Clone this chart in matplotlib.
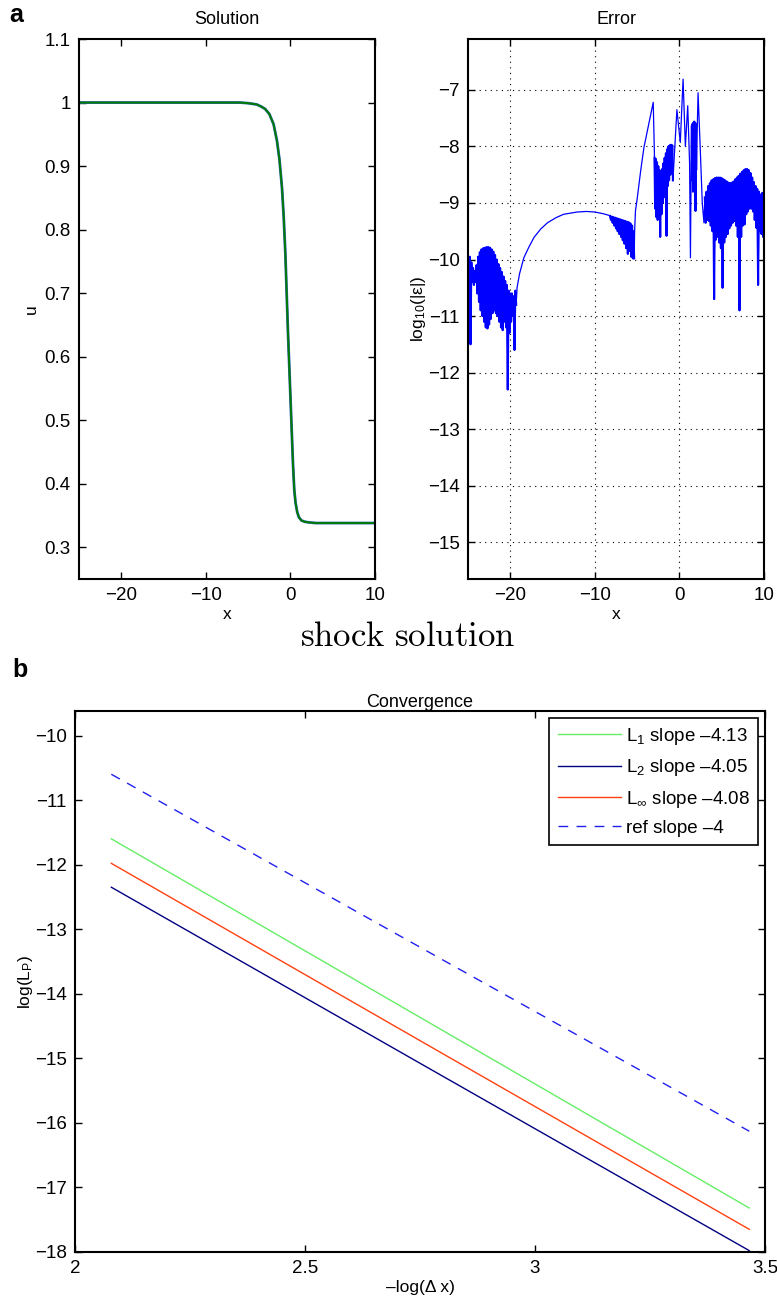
import numpy as np
import matplotlib
matplotlib.use("Agg")
import matplotlib.pyplot as plt
from matplotlib.ticker import FormatStrFormatter

plt.rcParams['font.family'] = ['Liberation Sans', 'DejaVu Sans']
plt.rcParams['font.size'] = 12.5
plt.rcParams['mathtext.fontset'] = 'custom'
plt.rcParams['mathtext.rm'] = 'Liberation Sans'
plt.rcParams['mathtext.it'] = 'Liberation Sans'

# ---- panel a, left: shock profile (exact and numerical overlap)
sol_x = [-25, -6, -5, -4, -3.5, -3, -2.5, -2, -1.6, -1.3, -1.0, -0.8, -0.6, -0.45,
         -0.3, -0.1, 0.1, 0.3, 0.45, 0.6, 0.8, 1.0, 1.3, 1.7, 2.2, 3, 10]
sol_u = [1.0, 1.0, 0.999, 0.997, 0.994, 0.99, 0.982, 0.966, 0.94, 0.91, 0.865,
         0.82, 0.76, 0.70, 0.64, 0.57, 0.50, 0.43, 0.39, 0.37, 0.355, 0.347,
         0.342, 0.340, 0.339, 0.338, 0.338]

# ---- panel a, right: log10 error, smooth pieces and oscillating bursts
# burst A
xa = [-25.0, -24.8, -24.6, -24.4, -24.2, -24.0, -23.8, -23.6, -23.4, -23.2, -23.0,
      -22.8, -22.6, -22.4, -22.2, -22.0, -21.8, -21.6, -21.4, -21.2, -21.0, -20.8,
      -20.6, -20.4, -20.2, -20.0, -19.8, -19.6, -19.4]
ya_top = [-10.10, -9.95, -10.05, -10.15, -10.2, -10.1, -9.95, -9.87, -9.82, -9.80,
          -9.79, -9.78, -9.78, -9.79, -9.82, -9.86, -9.92, -10.0, -10.08, -10.15,
          -10.22, -10.3, -10.38, -10.45, -10.55, -10.6, -10.6, -10.65, -10.55]
ya_bot = [-10.3, -11.5, -10.4, -10.45, -10.4, -10.6, -10.75, -10.9, -11.0, -11.1,
          -11.2, -11.22, -11.15, -11.05, -10.95, -10.9, -10.95, -11.0, -11.1, -11.2,
          -11.25, -11.1, -11.2, -12.3, -11.3, -11.1, -11.0, -11.6, -10.8]
# smooth arch
x_arch = [-19.2, -18.9, -18.4, -17.8, -17.2, -16.4, -15.6, -14.6, -13.7, -12.1,
          -11.0, -10.0, -9.0, -8.3]
y_arch = [-10.5, -10.25, -9.97, -9.78, -9.61, -9.46, -9.35, -9.26, -9.2, -9.16,
          -9.15, -9.16, -9.19, -9.22]
# burst B
xb = [-8.2, -8.0, -7.8, -7.6, -7.4, -7.2, -7.0, -6.8, -6.6, -6.4, -6.2, -6.0,
      -5.8, -5.6, -5.45]
yb_top = [-9.23, -9.24, -9.25, -9.26, -9.27, -9.28, -9.29, -9.30, -9.31, -9.32,
          -9.33, -9.34, -9.36, -9.40, -9.5]
yb_bot = [-9.3, -9.35, -9.4, -9.45, -9.5, -9.55, -9.6, -9.66, -9.72, -9.8, -9.9,
          -9.85, -9.95, -9.98, -9.98]
# rise to first peak
x_rise = [-5.3, -5.2, -5.0, -4.6, -4.2, -3.6, -3.1]
y_rise = [-9.5, -9.14, -8.93, -8.45, -8.02, -7.58, -7.22]
# burst C
xc = [-2.95, -2.8, -2.65, -2.5, -2.35, -2.2, -2.05, -1.9, -1.75, -1.6, -1.45,
      -1.3, -1.15, -1.0, -0.85]
yc_top = [-8.2, -8.22, -8.28, -8.35, -8.42, -8.45, -8.4, -8.3, -8.2, -8.12, -8.05,
          -8.0, -7.98, -7.97, -7.98]
yc_bot = [-9.1, -9.25, -9.3, -9.28, -9.6, -9.2, -9.0, -8.9, -8.8, -9.58, -8.7,
          -8.6, -8.5, -8.45, -8.6]
# spikes around the shock
x_mid = [-0.75, -0.3, 0.1, 0.43, 0.7, 0.98, 1.2, 1.3, 1.4]
y_mid = [-8.55, -7.35, -7.93, -6.81, -8.0, -7.28, -8.3, -9.97, -8.0]
# burst D
xd = [1.45, 1.55, 1.65, 1.75, 1.85, 1.95]
yd_top = [-7.65, -7.6, -7.58, -7.56, -7.58, -7.6]
yd_bot = [-8.6, -8.8, -8.5, -8.7, -9.14, -8.4]
x_peak = [2.2, 2.45, 2.7, 2.9]
y_peak = [-7.05, -8.0, -9.0, -9.35]
# burst E
xe = [3.0, 3.2, 3.4, 3.6, 3.8, 4.0, 4.2, 4.4, 4.6, 4.8, 5.0, 5.2, 5.4, 5.6, 5.8,
      6.0, 6.2, 6.4, 6.6, 6.8, 7.0, 7.2, 7.4, 7.6, 7.8, 8.0, 8.2, 8.4, 8.6, 8.8,
      9.0, 9.2, 9.4, 9.6, 9.8, 10.0]
ye_top = [-8.9, -8.8, -8.7, -8.65, -8.6, -8.58, -8.56, -8.55, -8.55, -8.55, -8.56,
          -8.58, -8.6, -8.62, -8.64, -8.65, -8.64, -8.62, -8.58, -8.55, -8.52, -8.48,
          -8.45, -8.42, -8.4, -8.4, -8.42, -8.47, -8.55, -8.63, -8.7, -8.75, -8.8,
          -8.85, -8.82, -8.8]
ye_bot = [-9.35, -9.3, -9.32, -9.4, -9.5, -10.7, -9.65, -9.6, -9.7, -9.8, -10.5,
          -9.7, -9.6, -9.55, -9.45, -9.4, -9.35, -9.32, -9.4, -9.6, -10.9, -9.6,
          -9.4, -9.38, -9.2, -9.15, -9.1, -9.1, -9.15, -9.3, -9.44, -10.45, -9.5,
          -9.55, -9.6, -9.3]

# ---- panel b: convergence
conv_x = [2.079, 2.773, 3.466]
conv_L1 = [-11.60, -14.46, -17.32]
conv_L2 = [-12.35, -15.17, -17.98]
conv_Linf = [-11.98, -14.82, -17.65]
conv_ref = [-10.60, -13.37, -16.13]


def burst(x, top, bot):
    # alternate between the read upper and lower envelope at each wiggle
    xs, ys = [], []
    dx = np.diff(x).mean() / 2
    for xi, t, b in zip(x, top, bot):
        xs += [xi, xi + dx]
        ys += [t, b]
    return xs, ys


bursts = [burst(xa, ya_top, ya_bot), burst(xb, yb_top, yb_bot),
          burst(xc, yc_top, yc_bot), burst(xd, yd_top, yd_bot),
          burst(xe, ye_top, ye_bot)]
smooth = [(x_arch, y_arch), (x_rise, y_rise), (x_mid, y_mid), (x_peak, y_peak)]
pieces = [bursts[0], smooth[0], bursts[1], smooth[1], bursts[2], smooth[2],
          bursts[3], smooth[3], bursts[4]]
err_x = np.concatenate([p[0] for p in pieces])
err_y = np.concatenate([p[1] for p in pieces])


def style(ax):
    ax.tick_params(direction='in', length=5, width=1, top=True, right=True,
                   labelsize=13.5, pad=6)
    for s in ax.spines.values():
        s.set_linewidth(1.5)


fig = plt.figure(figsize=(7.77, 13.01), dpi=100)

ax1 = fig.add_axes([0.1017, 0.555, 0.381, 0.415])
ax1.plot(sol_x, sol_u, color='#3060c0', lw=2.0)
ax1.plot(sol_x, sol_u, color='#007a00', lw=1.4)
ax1.set_xlim(-25, 10)
ax1.set_ylim(0.25, 1.1)
ax1.set_xticks([-20, -10, 0, 10])
ax1.set_yticks(np.arange(0.3, 1.15, 0.1))
ax1.yaxis.set_major_formatter(FormatStrFormatter('%g'))
ax1.set_title('Solution', fontsize=13, pad=11)
ax1.set_xlabel('x', labelpad=2)
ax1.set_ylabel('u', labelpad=4)
style(ax1)

ax2 = fig.add_axes([0.6023, 0.555, 0.381, 0.415])
ax2.plot(err_x, err_y, color='#0000ff', lw=0.9)
for bx, by in bursts:
    ax2.plot(bx, by, color='#0000ff', lw=1.5)
ax2.set_xlim(-25, 10)
ax2.set_ylim(-15.65, -6.1)
ax2.set_xticks([-20, -10, 0, 10])
ax2.set_yticks(np.arange(-15, -6, 1))
ax2.grid(True, linestyle=(0, (1, 4)), color='black', lw=0.8)
ax2.set_title('Error', fontsize=13, pad=11)
ax2.set_xlabel('x', labelpad=2)
ax2.set_ylabel(r'log$_{10}$(|ε|)', labelpad=0)
style(ax2)

fig.text(0.524, 0.5104, r'$\mathrm{shock\ solution}$', ha='center', va='center',
         fontsize=25, math_fontfamily='cm')
fig.text(0.012, 0.9885, 'a', fontsize=18, weight='bold', va='center')
fig.text(0.016, 0.485, 'b', fontsize=18, weight='bold', va='center')

ax3 = fig.add_axes([0.0965, 0.0377, 0.888, 0.4158])
ax3.plot(conv_x, conv_L1, color='#66ee66', lw=1, label=r'L$_1$ slope –4.13')
ax3.plot(conv_x, conv_L2, color='#000080', lw=1, label=r'L$_2$ slope –4.05')
ax3.plot(conv_x, conv_Linf, color='#ff4010', lw=1, label=r'L$_\infty$ slope –4.08')
ax3.plot(conv_x, conv_ref, color='#2020ee', lw=1, ls=(0, (7, 6)), label='ref slope –4')
ax3.set_xlim(2, 3.5)
ax3.set_ylim(-18, -9.62)
ax3.set_xticks([2, 2.5, 3, 3.5])
ax3.set_yticks(np.arange(-18, -9, 1))
ax3.xaxis.set_major_formatter(FormatStrFormatter('%g'))
ax3.set_title('Convergence', fontsize=13, pad=3)
ax3.set_xlabel('–log(Δ x)', labelpad=2)
ax3.set_ylabel(r'log(L$_\mathrm{P}$)', labelpad=0)
style(ax3)
leg = ax3.legend(loc='upper right', fancybox=False, edgecolor='black',
                 framealpha=1, borderaxespad=0.35, handlelength=3.4,
                 handletextpad=0.25, fontsize=13.5, labelspacing=0.55,
                 borderpad=0.45)
leg.get_frame().set_linewidth(1.2)

fig.savefig('out.png', dpi=100)
